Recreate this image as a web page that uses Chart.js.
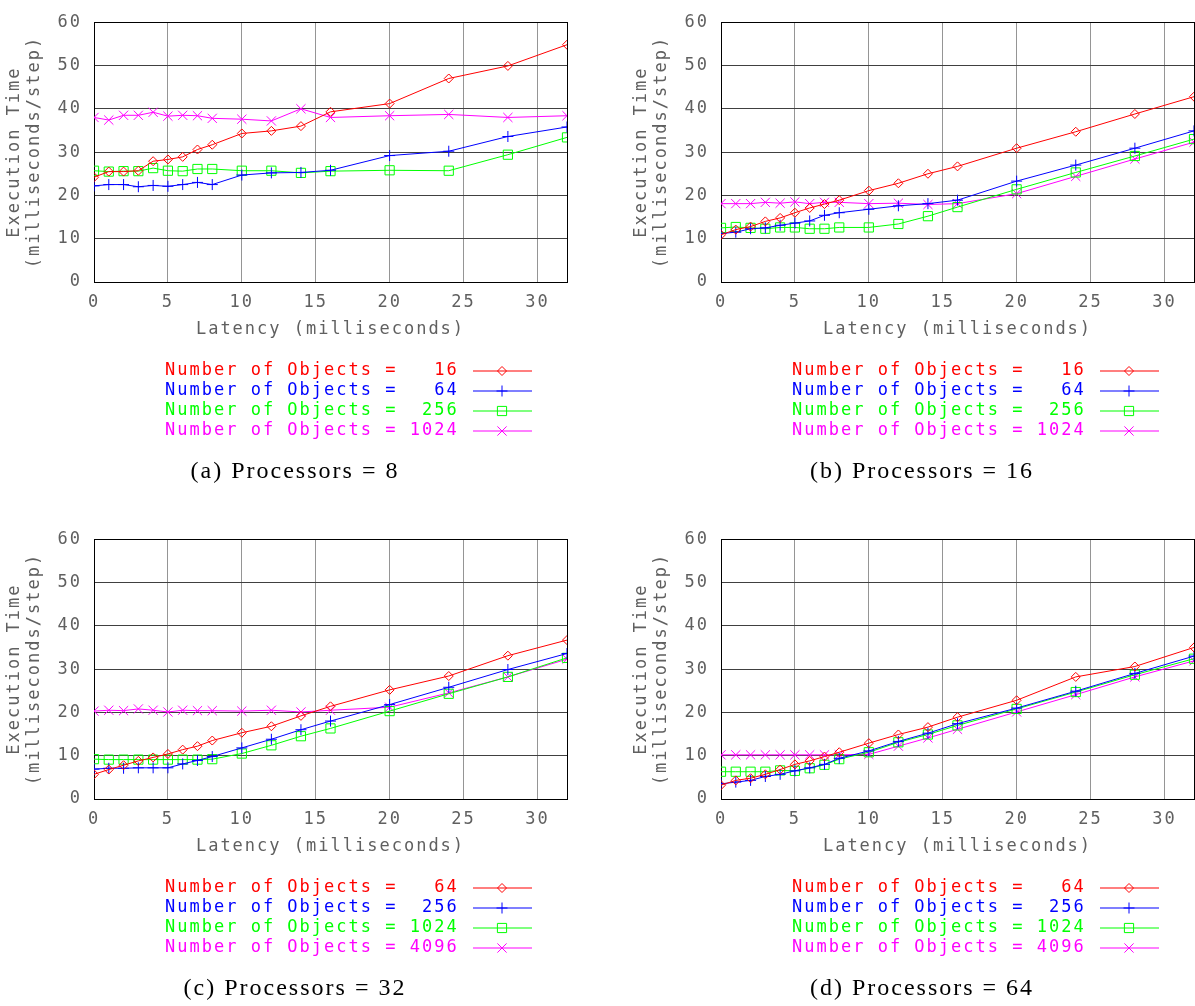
<!DOCTYPE html>
<html>
<head>
<meta charset="utf-8">
<script src="https://cdn.jsdelivr.net/npm/chart.js@4.4.0/dist/chart.umd.min.js"></script>
<style>
  html, body { margin: 0; padding: 0; background: #fff; overflow: hidden; }
  #wrap { position: relative; width: 1195px; height: 1006px; }
  canvas { position: absolute; }
</style>
</head>
<body>
<div id="wrap">
  <canvas id="chart-a" width="627" height="517" style="left:0;top:0"></canvas>
  <canvas id="chart-b" width="627" height="517" style="left:627px;top:0"></canvas>
  <canvas id="chart-c" width="627" height="517" style="left:0;top:517px"></canvas>
  <canvas id="chart-d" width="627" height="517" style="left:627px;top:517px"></canvas>
</div>
<script>
// latency values (x axis)
const latency = [0, 1, 2, 3, 4, 5, 6, 7, 8, 10, 12, 14, 16, 20, 24, 28, 32];

// (a) processors = 8
const p8_obj16   = [24.2, 25.5, 25.5, 25.7, 27.9, 28.3, 28.9, 30.6, 31.7, 34.3, 34.9, 36.0, 39.3, 41.2, 47.0, 49.9, 54.8];
const p8_obj64   = [22.2, 22.5, 22.5, 22.0, 22.3, 22.1, 22.5, 23.0, 22.5, 24.7, 25.2, 25.3, 25.8, 29.2, 30.2, 33.6, 35.8];
const p8_obj256  = [25.7, 25.5, 25.6, 25.6, 26.3, 25.7, 25.6, 26.1, 26.1, 25.7, 25.7, 25.2, 25.6, 25.8, 25.7, 29.4, 33.4];
const p8_obj1024 = [38.0, 37.4, 38.5, 38.5, 39.2, 38.3, 38.5, 38.4, 37.8, 37.6, 37.2, 40.0, 38.0, 38.4, 38.7, 38.0, 38.4];

// (b) processors = 16
const p16_obj16   = [10.9, 12.1, 12.8, 14.0, 14.8, 16.0, 17.1, 18.0, 18.9, 21.1, 22.8, 25.0, 26.7, 30.9, 34.7, 38.8, 42.8];
const p16_obj64   = [11.2, 11.5, 12.3, 12.5, 13.1, 13.6, 14.1, 15.4, 16.0, 16.8, 17.6, 18.1, 18.9, 23.3, 27.0, 30.9, 34.9];
const p16_obj256  = [12.5, 12.7, 12.5, 12.3, 12.6, 12.6, 12.3, 12.3, 12.6, 12.6, 13.4, 15.2, 17.3, 21.4, 25.3, 29.1, 33.0];
const p16_obj1024 = [18.1, 18.1, 18.1, 18.4, 18.2, 18.5, 18.1, 18.4, 18.4, 18.1, 18.2, 17.9, 18.1, 20.4, 24.4, 28.4, 32.3];

// (c) processors = 32
const p32_obj64   = [5.7, 6.8, 7.8, 8.8, 9.6, 10.4, 11.4, 12.2, 13.5, 15.3, 16.8, 19.2, 21.4, 25.2, 28.4, 33.1, 36.7];
const p32_obj256  = [6.9, 7.1, 7.1, 7.2, 7.2, 7.2, 8.1, 8.9, 9.8, 11.8, 13.8, 16.0, 18.0, 21.8, 25.8, 29.9, 33.6];
const p32_obj1024 = [9.2, 9.1, 9.1, 9.1, 9.1, 9.1, 9.1, 9.1, 9.2, 10.5, 12.4, 14.5, 16.3, 20.3, 24.3, 28.2, 32.6];
const p32_obj4096 = [20.3, 20.5, 20.4, 20.8, 20.5, 20.1, 20.5, 20.4, 20.4, 20.3, 20.5, 20.1, 20.5, 21.2, 24.5, 28.2, 32.3];

// (d) processors = 64
const p64_obj64   = [3.2, 4.3, 4.8, 5.7, 6.8, 8.0, 8.8, 9.8, 10.8, 12.9, 14.9, 16.6, 18.9, 22.8, 28.2, 30.6, 35.0];
const p64_obj256  = [3.5, 3.9, 4.3, 5.2, 5.7, 6.5, 7.2, 8.0, 9.4, 11.1, 13.3, 15.2, 17.4, 21.0, 24.9, 29.0, 33.0];
const p64_obj1024 = [6.3, 6.3, 6.3, 6.3, 6.6, 6.5, 7.1, 7.9, 9.2, 10.8, 13.1, 14.9, 17.0, 20.8, 24.7, 28.7, 32.4];
const p64_obj4096 = [10.2, 10.2, 10.2, 10.2, 10.2, 10.2, 10.2, 10.2, 10.2, 10.3, 12.2, 14.1, 16.1, 20.1, 24.1, 28.2, 31.9];

const objectsSmall = [16, 64, 256, 1024];
const objectsLarge = [64, 256, 1024, 4096];

const xTicks = [0, 5, 10, 15, 20, 25, 30];
const yTicks = [0, 10, 20, 30, 40, 50, 60];

const colors = ['#ff0000', '#0000ff', '#00ff00', '#ff00ff'];
const markers = ['rectRot', 'cross', 'rect', 'crossRot'];
const markerSizes = [4.5, 5.5, 6.5, 6.5];

const MONO = '"DejaVu Sans Mono", monospace';
const MONO_SIZE = 17;
const SPACING = '2px';
const TEXT_GRAY = '#606060';

// small marker painter for the legend samples (same shapes as the chart points)
function drawMarker(ctx, style, r, x, y) {
   ctx.beginPath();
   if (style === 'rectRot') {
      ctx.moveTo(x, y - r); ctx.lineTo(x + r, y); ctx.lineTo(x, y + r); ctx.lineTo(x - r, y); ctx.closePath();
   } else if (style === 'cross') {
      ctx.moveTo(x, y - r); ctx.lineTo(x, y + r); ctx.moveTo(x - r, y); ctx.lineTo(x + r, y);
   } else if (style === 'rect') {
      const s = r * Math.SQRT1_2;
      ctx.rect(x - s, y - s, 2 * s, 2 * s);
   } else {
      const s = r * Math.SQRT1_2;
      ctx.moveTo(x - s, y - s); ctx.lineTo(x + s, y + s); ctx.moveTo(x - s, y + s); ctx.lineTo(x + s, y - s);
   }
   ctx.stroke();
}

const panelPlugin = {
   id: 'panel',
   beforeDraw(chart) {
      chart.ctx.letterSpacing = SPACING;
   },
   beforeDatasetsDraw(chart) {
      const { ctx, chartArea: a } = chart;
      ctx.save();
      ctx.strokeStyle = '#000';
      ctx.lineWidth = 1;
      ctx.strokeRect(Math.round(a.left) + 0.5, Math.round(a.top) + 0.5,
         Math.round(a.right - a.left), Math.round(a.bottom - a.top));
      ctx.restore();
   },
   afterDraw(chart, args, opts) {
      const ctx = chart.ctx;
      ctx.save();
      ctx.letterSpacing = SPACING;
      ctx.font = MONO_SIZE + 'px ' + MONO;
      ctx.textBaseline = 'middle';
      ctx.textAlign = 'left';
      chart.data.datasets.forEach((ds, i) => {
         const y = 371 + i * 20;
         const c = colors[i];
         ctx.fillStyle = c;
         ctx.fillText(ds.label, 165, y);
         ctx.strokeStyle = c;
         ctx.lineWidth = 1.2;
         ctx.beginPath();
         ctx.moveTo(473, y);
         ctx.lineTo(532, y);
         ctx.stroke();
         ctx.lineWidth = 1;
         drawMarker(ctx, markers[i], markerSizes[i], 502, y);
      });
      ctx.letterSpacing = '2px';
      ctx.fillStyle = '#000';
      ctx.textAlign = 'center';
      ctx.font = '24px "Liberation Serif", serif';
      ctx.fillText(opts.caption, 295, 472);
      ctx.restore();
   }
};

function makeChart(id, caption, objects, series) {
   const datasets = series.map((vals, i) => ({
      label: 'Number of Objects = ' + String(objects[i]).padStart(4, ' '),
      data: latency.map((x, k) => ({ x: x, y: vals[k] })),
      borderColor: colors[i],
      borderWidth: 1,
      pointStyle: markers[i],
      pointRadius: markerSizes[i],
      pointBorderWidth: 1,
      pointBackgroundColor: 'rgba(0,0,0,0)',
      fill: false,
      tension: 0
   }));

   new Chart(document.getElementById(id), {
      type: 'line',
      data: { datasets: datasets },
      options: {
         responsive: false,
         animation: false,
         layout: { padding: { left: 0, top: 9, right: 60, bottom: 175 } },
         scales: {
            x: {
               type: 'linear',
               min: 0,
               max: 32,
               afterFit: (s) => { s.height = 60; },
               afterBuildTicks: (s) => { s.ticks = xTicks.map(v => ({ value: v })); },
               grid: { color: '#959595', lineWidth: 1, drawTicks: false },
               border: { display: false },
               ticks: { color: TEXT_GRAY, font: { family: MONO, size: MONO_SIZE }, padding: 10, maxRotation: 0 },
               title: {
                  display: true,
                  text: 'Latency (milliseconds)',
                  color: TEXT_GRAY,
                  font: { family: MONO, size: MONO_SIZE, lineHeight: '20px' },
                  padding: { top: 4, bottom: 2 }
               }
            },
            y: {
               min: 0,
               max: 60,
               afterFit: (s) => { s.width = 94; },
               afterBuildTicks: (s) => { s.ticks = yTicks.map(v => ({ value: v })); },
               grid: { color: '#404040', lineWidth: 1, drawTicks: false },
               border: { display: false },
               ticks: { color: TEXT_GRAY, font: { family: MONO, size: MONO_SIZE }, padding: 12 },
               title: {
                  display: true,
                  text: ['Execution Time', '(milliseconds/step)'],
                  color: TEXT_GRAY,
                  font: { family: MONO, size: MONO_SIZE, lineHeight: '20px' },
                  padding: { top: 5, bottom: 0 }
               }
            }
         },
         plugins: {
            legend: { display: false },
            tooltip: { enabled: false },
            panel: { caption: caption }
         }
      },
      plugins: [panelPlugin]
   });
}

makeChart('chart-a', '(a) Processors = 8', objectsSmall, [p8_obj16, p8_obj64, p8_obj256, p8_obj1024]);
makeChart('chart-b', '(b) Processors = 16', objectsSmall, [p16_obj16, p16_obj64, p16_obj256, p16_obj1024]);
makeChart('chart-c', '(c) Processors = 32', objectsLarge, [p32_obj64, p32_obj256, p32_obj1024, p32_obj4096]);
makeChart('chart-d', '(d) Processors = 64', objectsLarge, [p64_obj64, p64_obj256, p64_obj1024, p64_obj4096]);
</script>
</body>
</html>
